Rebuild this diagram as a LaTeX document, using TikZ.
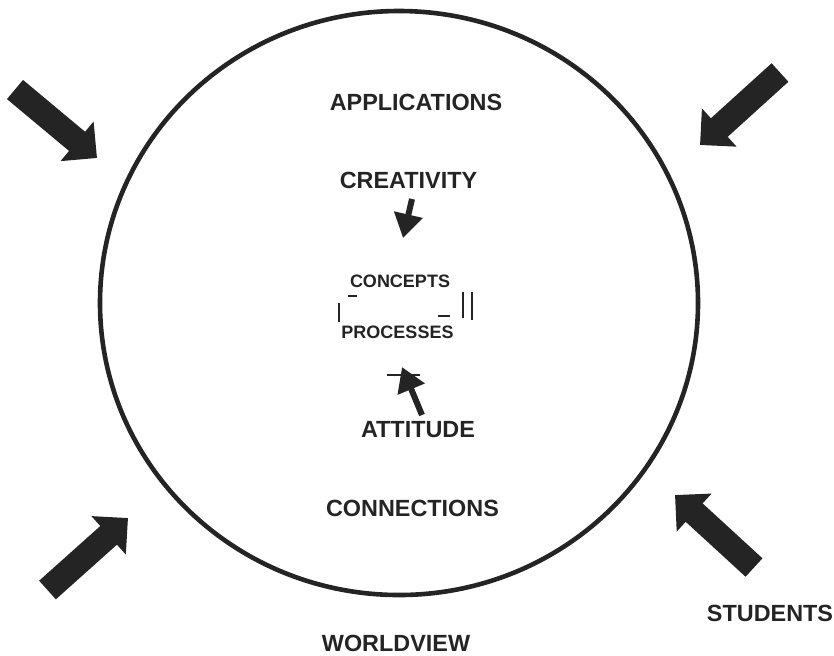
\documentclass[tikz,border=0pt]{standalone}
\usepackage{fontspec}
\setmainfont{Liberation Sans}
\usepackage{xcolor}
\usetikzlibrary{arrows.meta}
\definecolor{ink}{HTML}{242424}

\begin{document}
\begin{tikzpicture}[x=0.5pt, y=-0.5pt,
    word/.style={font=\bfseries\fontsize{11.7}{14}\selectfont, text=ink, anchor=base, inner sep=0pt},
    smallword/.style={word, font=\bfseries\fontsize{9}{11}\selectfont},
    fatarrow/.style={ink, line width=12.5pt, -{Triangle[width=25pt, length=13pt]}},
    thinarrow/.style={ink, line width=3pt, -{Triangle[width=14pt, length=12pt]}},
    tick/.style={ink, line width=1pt}]
    \useasboundingbox (0,0) rectangle (834,655);
    \draw[ink, line width=2.3pt] (399,303) ellipse [x radius=299, y radius=292];
    \node[word] (applications) at (416,110.5) {APPLICATIONS};
    \node[word] (creativity) at (408.5,188.5) {CREATIVITY};
    \node[smallword] (concepts) at (400,287.5) {CONCEPTS};
    \node[smallword] (processes) at (397.5,338.5) {PROCESSES};
    \node[word] (attitude) at (418,437.5) {ATTITUDE};
    \node[word] (connections) at (412.5,516) {CONNECTIONS};
    \node[word] (worldview) at (396,651.5) {WORLDVIEW};
    \node[word] (students) at (770,621.5) {STUDENTS};
    \foreach \n/\t/\p in {nw/{15,89.5}/{97,158}, ne/{780,72.5}/{700,145},
                          sw/{47.5,590}/{128,518}, se/{754,567.5}/{675,495}}
    {
        \coordinate (\n-tail) at (\t);
        \coordinate (\n-tip) at (\p);
        \draw[fatarrow] (\n-tail) -- (\n-tip);
    }
    \coordinate (down-tail) at (412,199);
    \coordinate (down-tip) at (403,238);
    \draw[thinarrow] (down-tail) -- (down-tip);
    \coordinate (up-tail) at (422,415);
    \coordinate (up-tip) at (402,367);
    \draw[thinarrow] (up-tail) -- (up-tip);
    \draw[ink, line width=0.7pt] (387,375) -- (420,375);
    \draw[tick] (348,296) -- (357,296);
    \draw[tick] (339,303) -- (339,322);
    \draw[tick] (438,316) -- (450,316);
    \draw[tick] (463,292) -- (463,318);
    \draw[tick] (472,292) -- (472,320);
\end{tikzpicture}
\end{document}
